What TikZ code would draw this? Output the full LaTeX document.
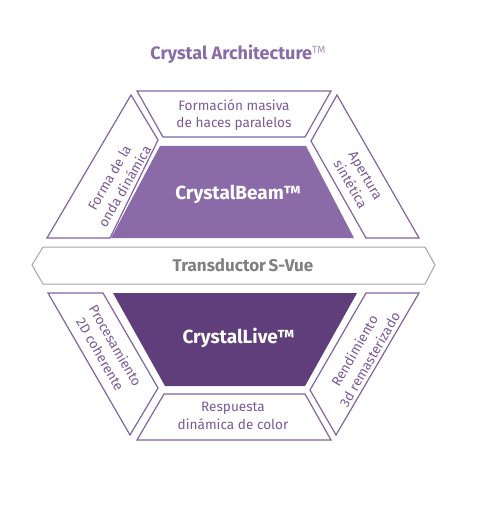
\documentclass[tikz,border=0pt]{standalone}
\usepackage{fontspec}
\setmainfont{Fira Sans}
\definecolor{pline}{HTML}{8264A3}
\definecolor{pfillA}{HTML}{8A6BA8}
\definecolor{pfillB}{HTML}{5F3E7B}
\definecolor{ptext}{HTML}{7A5A9B}
\definecolor{gline}{HTML}{A6A6A6}
\definecolor{gtext}{HTML}{808080}
\begin{document}
\begin{tikzpicture}[x=1pt,y=-1pt,
  seg/.style={draw=pline,line width=1.2pt,line join=miter},
  lab/.style={text=ptext,font=\fontsize{13.6}{17.5}\selectfont,align=center,inner sep=0pt},
  big/.style={text=white,font=\fontsize{19}{21}\selectfont\bfseries,inner sep=0pt}]
\useasboundingbox[fill=white] (0,0) rectangle (477,518);
% title
\node[anchor=base,text=pfillA,font=\fontsize{18}{20}\selectfont,inner sep=0pt] (title) at (238,59.3)
  {\textbf{Crystal Architecture}\raisebox{5.3pt}{\fontsize{10.5}{10.5}\selectfont\color{pfillA!75}TM}};
% top half
\draw[seg] (137,91)--(331,91)--(305,137)--(163,137)--cycle;
\fill[pfillA] (160,146)--(306,146)--(354,238)--(111,238)--cycle;
\draw[seg] (131,95)--(158,140)--(110,238)--(47,238)--cycle;
\draw[seg] (337,95)--(311,141)--(366,238)--(419,238)--cycle;
% band
\draw[gline,line width=1pt] (32,265)--(43,247)--(425,247)--(435,265)--(425,284)--(43,284)--cycle;
% bottom half
\fill[pfillB] (113,293)--(357,293)--(305,386)--(165,386)--cycle;
\draw[seg] (48,293)--(103,293)--(158,388)--(130,435)--cycle;
\draw[seg] (366,293)--(419,293)--(336,435)--(310,390)--cycle;
\draw[seg] (164,394)--(305,394)--(331,440)--(137,440)--cycle;
% labels
\node[lab] (fm) at (234,115) {Formación masiva\\de haces paralelos};
\node[lab,rotate=60] (fo) at (117,182) {Forma de la\\onda dinámica};
\node[lab,rotate=-60] (ap) at (358,180) {Apertura\\sintética};
\node[big,anchor=base] (cb) at (238,200) {CrystalBeam™};
\node[text=gtext,font=\fontsize{17}{19}\selectfont\bfseries,inner sep=0pt,anchor=base] (tr) at (243,271.5) {Transductor\hspace{0.15em}S-Vue};
\node[big,anchor=base] (cl) at (238.5,343.3) {CrystalLive™};
\node[lab,rotate=-60] (pr) at (108,350) {Procesamiento\\2D coherente};
\node[lab,rotate=60] (re) at (362,355) {Rendimiento\\3d remasterizado};
\node[lab] (rs) at (233,416) {Respuesta\\dinámica de color};
\end{tikzpicture}
\end{document}
